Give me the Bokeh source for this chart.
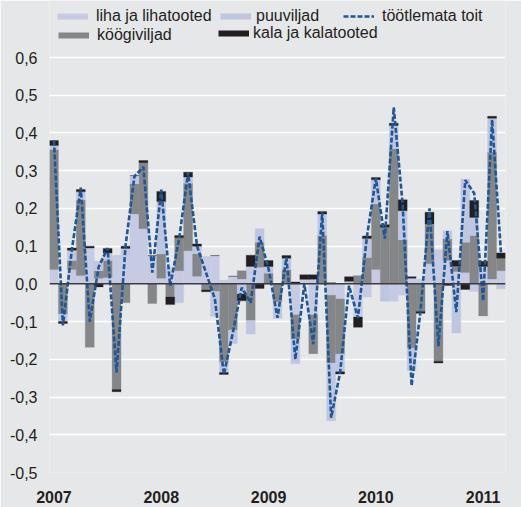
import numpy as np
from bokeh.plotting import figure
from bokeh.models import (Range1d, FixedTicker, Legend, LegendItem, Span,
                          CustomJSTickFormatter)
from bokeh.embed import file_html
from bokeh.resources import INLINE

# Monthly data, Jan 2007 .. Mar 2011 (index 0 = Jan 2007)
months = list(range(51))
year_ticks = [0, 12, 24, 36, 48]
year_labels = ["2007", "2008", "2009", "2010", "2011"]
y_ticks = [-0.5, -0.4, -0.3, -0.2, -0.1, 0, 0.1, 0.2, 0.3, 0.4, 0.5, 0.6]

liha = [0.038, 0.0, 0.038, 0.022, 0.095, 0.015, 0.017, 0.075, 0.075, 0.185,
        0.146, 0.075, 0.015, 0.044, 0.035, 0.088, 0.02, 0.072, 0.075, 0.01,
        0.02, 0.013, 0.046, 0.044, 0.0, 0.0, 0.0, -0.082, 0.012, -0.082,
        0.0, -0.03, -0.04, 0.007, -0.088, -0.035, 0.038, 0.0, -0.046, -0.03,
        0.015, 0.012, 0.053, 0.09, 0.062, 0.033, 0.03, -0.02, 0.046, 0.013,
        0.035]
koogiviljad = [0.318, -0.08, 0.024, 0.2, -0.168, 0.02, 0.045, -0.28, -0.05, 0.08,
               0.175, -0.052, 0.064, -0.035, 0.087, 0.179, 0.06, -0.016, -0.02, -0.208,
               -0.122, 0.022, -0.097, 0.066, 0.028, -0.048, 0.038, -0.064, 0.0, -0.103,
               0.128, -0.18, -0.146, 0.0, 0.022, 0.07, 0.174, 0.15, 0.358, 0.117,
               -0.17, -0.073, 0.106, -0.205, 0.057, 0.014, 0.08, 0.128, -0.085, 0.336,
               0.033]
puuviljad = [0.011, -0.02, 0.027, 0.022, 0.0, 0.025, 0.02, 0.0, 0.019, 0.022,
             0.0, 0.0, 0.139, 0.0, -0.05, 0.016, 0.02, 0.0, -0.066, -0.027,
             -0.036, -0.027, -0.036, 0.036, 0.018, -0.044, 0.03, -0.066, 0.0, 0.012,
             0.057, -0.153, -0.047, 0.0, 0.0, 0.05, 0.064, -0.046, 0.062, 0.077,
             -0.06, 0.0, 0.0, 0.0, 0.022, -0.13, 0.168, 0.048, 0.0, 0.09,
             -0.013]
kala = [0.013, -0.005, 0.006, 0.006, 0.005, -0.008, 0.012, -0.006, 0.006, 0.0,
        0.006, 0.0, 0.027, -0.02, 0.006, 0.013, 0.006, -0.005, 0.0, -0.005,
        0.0, -0.018, 0.03, -0.012, 0.016, 0.0, 0.007, 0.005, 0.012, 0.012,
        0.007, 0.003, -0.006, 0.012, -0.027, 0.007, 0.006, 0.007, 0.006, 0.029,
        0.004, -0.005, 0.031, -0.005, -0.004, 0.015, -0.015, 0.045, 0.014, 0.005,
        0.014]
tootlemata = [0.38, -0.11, 0.09, 0.255, -0.10, 0.045, 0.095, -0.235, 0.10, 0.285,
              0.31, 0.03, 0.25, -0.005, 0.12, 0.295, 0.10, 0.03, -0.04, -0.24,
              -0.13, -0.01, -0.05, 0.125, 0.04, -0.09, 0.07, -0.20, 0.0, -0.16,
              0.19, -0.355, -0.235, -0.005, -0.09, 0.125, 0.28, 0.12, 0.468, 0.21,
              -0.27, -0.07, 0.2, -0.165, 0.14, -0.075, 0.275, 0.24, -0.045, 0.435,
              0.08]

BG = "#e6e7e8"
C_LIHA = "#c6cbe3"
C_KOOGI = "#858688"
C_PUU = "#bfc6e0"
C_KALA = "#231f20"
C_LINE = "#1b5799"
FONT = "Liberation Sans"

# frame spans the whole top so the legend (drawn inside the frame) fits above 0,6
p = figure(width=521, height=507, output_backend="svg", toolbar_location=None,
           x_range=Range1d(-0.5, 50.5), y_range=Range1d(-0.5, 0.7511),
           min_border_left=49, min_border_right=16, min_border_top=0,
           min_border_bottom=35)
p.background_fill_color = BG
p.border_fill_color = BG
p.outline_line_color = None

series = [("liha ja lihatooted", liha, C_LIHA),
          ("köögiviljad", koogiviljad, C_KOOGI),
          ("puuviljad", puuviljad, C_PUU),
          ("kala ja kalatooted", kala, C_KALA)]

handles = {}
pos = np.zeros(len(months))
neg = np.zeros(len(months))
for name, vals, col in series:
    v = np.array(vals, dtype=float)
    bottom = np.where(v >= 0, pos, neg)
    top = bottom + v
    pos = np.where(v >= 0, top, pos)
    neg = np.where(v < 0, top, neg)
    p.vbar(x=months, bottom=bottom, top=top, width=1.0,
           fill_color=col, line_color=col, line_width=0.3)
    # hidden handle used only for the legend swatch
    handles[name] = p.line(x=months, y=vals, line_color=col, line_width=6,
                           visible=False)

p.add_layout(Span(location=0, dimension="width", line_color="#3c3c3c",
                  line_width=1.5))

handles["töötlemata toit"] = p.line(x=months, y=tootlemata, line_color=C_LINE,
                                    line_width=2.6, line_dash="5 2")

# grid & axes
p.xgrid.visible = False
p.ygrid.ticker = FixedTicker(ticks=y_ticks)
p.ygrid.grid_line_color = "white"
p.ygrid.grid_line_width = 1.5

p.yaxis.ticker = FixedTicker(ticks=y_ticks)
p.yaxis.formatter = CustomJSTickFormatter(
    code="return tick.toFixed(1).replace('.', ',');")
p.xaxis.ticker = FixedTicker(ticks=year_ticks)
p.xaxis.major_label_overrides = {t: l for t, l in zip(year_ticks, year_labels)}

for ax in (p.xaxis[0], p.yaxis[0]):
    ax.axis_line_color = None
    ax.major_tick_line_color = None
    ax.minor_tick_line_color = None
    ax.major_label_text_font = FONT
    ax.major_label_text_color = "#231f20"
p.yaxis.major_label_text_font_size = "16px"
p.yaxis.major_label_standoff = 6
p.xaxis.major_label_text_font_size = "16px"
p.xaxis.major_label_text_font_style = "bold"
p.xaxis.major_label_standoff = 12

legend_spec = [
    ("liha ja lihatooted", (8, 446), 8),
    ("puuviljad", (171, 446), 5),
    ("töötlemata toit", (294, 446), 8),
    ("köögiviljad", (9, 427), 8),
    ("kala ja kalatooted", (169, 429), 4),
]
for label, loc, standoff in legend_spec:
    lg = Legend(items=[LegendItem(label=label, renderers=[handles[label]])],
                location=loc, orientation="horizontal",
                glyph_width=31, glyph_height=20, label_height=20,
                label_standoff=standoff, padding=0, margin=0, spacing=0,
                border_line_alpha=0, background_fill_alpha=0,
                inactive_fill_alpha=0,
                label_text_font=FONT, label_text_font_size="16px",
                label_text_color="#231f20")
    p.add_layout(lg)

open("out.html", "w", encoding="utf-8").write(file_html(p, INLINE))
